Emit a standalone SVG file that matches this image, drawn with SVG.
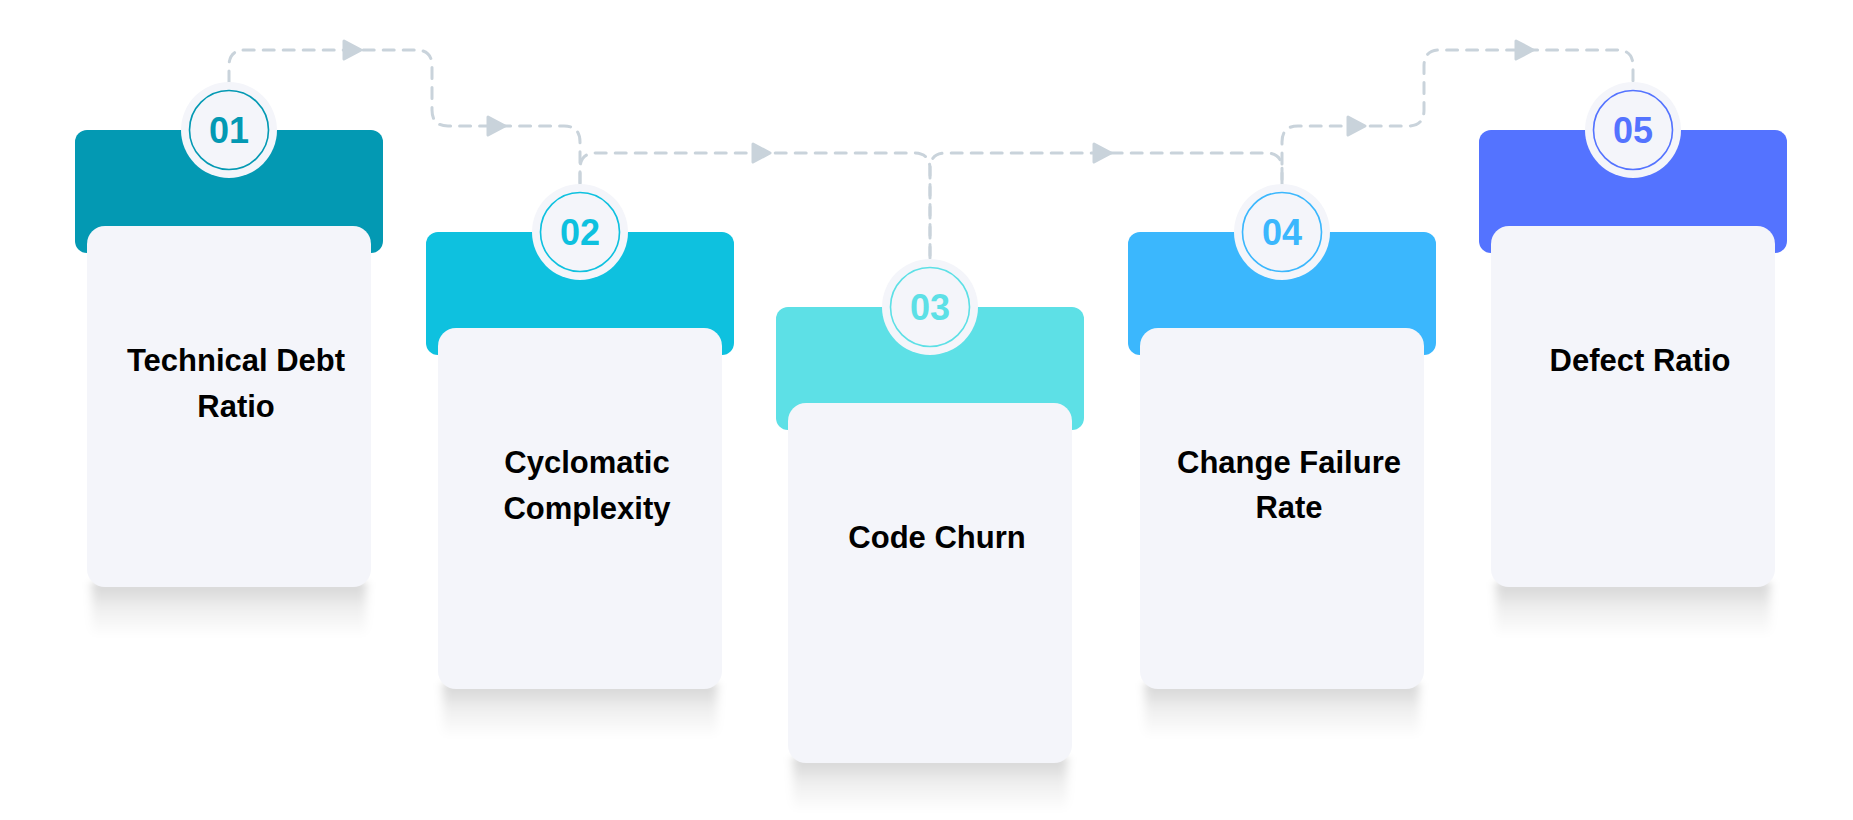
<svg xmlns="http://www.w3.org/2000/svg" width="1853" height="820" viewBox="0 0 1853 820">
<defs>
<style>
.card{fill:#F4F5FA}
.disc{fill:#F4F5FA}
.ring{fill:none;stroke-width:1.6}
.num{font-family:"Liberation Sans",Arial,sans-serif;font-weight:700;font-size:36px;text-anchor:middle}
.lbl{font-family:"Liberation Sans",Arial,sans-serif;font-weight:700;font-size:31px;text-anchor:middle;fill:#000}
.conn{fill:none;stroke:#C9D3DB;stroke-width:3;stroke-dasharray:11 9;stroke-linecap:round}
.arr{fill:#C9D3DB;stroke:#C9D3DB;stroke-width:3;stroke-linejoin:round}
.shadow{fill:url(#shade);filter:url(#soft)}
</style>
<linearGradient id="shade" x1="0" y1="0" x2="0" y2="1">
<stop offset="0" stop-color="#000" stop-opacity="0.17"/>
<stop offset="0.5" stop-color="#000" stop-opacity="0.06"/>
<stop offset="1" stop-color="#000" stop-opacity="0"/>
</linearGradient>
<filter id="soft" x="-10%" y="-30%" width="120%" height="160%"><feGaussianBlur stdDeviation="5 3"/></filter>
</defs>
<rect width="1853" height="820" fill="#FFFFFF"/>

<g id="connectors">
<path class="conn" d="M229,82 V66 Q229,50 245,50 H416 Q432,50 432,66 V110 Q432,126 448,126 H564 Q580,126 580,142 V184"/>
<polygon class="arr" points="344,41 361,50 344,59"/>
<polygon class="arr" points="488,117 505,126 488,135"/>
<path class="conn" d="M580,184 V169 Q580,153 596,153 H914 Q930,153 930,169 V258"/>
<polygon class="arr" points="753,144 770,153 753,162"/>
<path class="conn" d="M930,258 V169 Q930,153 946,153 H1266 Q1282,153 1282,169 V184"/>
<polygon class="arr" points="1094,144 1111,153 1094,162"/>
<path class="conn" d="M1282,184 V142 Q1282,126 1298,126 H1408 Q1424,126 1424,110 V66 Q1424,50 1440,50 H1617 Q1633,50 1633,66 V82"/>
<polygon class="arr" points="1348,117 1365,126 1348,135"/>
<polygon class="arr" points="1516,41 1533,50 1516,59"/>
</g>

<g id="node1">
<rect class="shadow" x="92" y="582" width="274" height="55"/>
<rect x="75" y="130" width="308" height="123" rx="12" fill="#0399B3"/>
<rect class="card" x="87" y="226" width="284" height="361" rx="18"/>
<circle class="disc" cx="229" cy="130" r="48"/>
<circle class="ring" cx="229" cy="130" r="39.5" stroke="#0399B3"/>
<text class="num" x="229" y="143" fill="#0399B3">01</text>
<text class="lbl" x="236" y="371">Technical Debt</text>
<text class="lbl" x="236" y="417">Ratio</text>
</g>

<g id="node2">
<rect class="shadow" x="443" y="683" width="274" height="55"/>
<rect x="426" y="232" width="308" height="123" rx="12" fill="#0EC1DF"/>
<rect class="card" x="438" y="328" width="284" height="361" rx="18"/>
<circle class="disc" cx="580" cy="232" r="48"/>
<circle class="ring" cx="580" cy="232" r="39.5" stroke="#0EC1DF"/>
<text class="num" x="580" y="245" fill="#0EC1DF">02</text>
<text class="lbl" x="587" y="473">Cyclomatic</text>
<text class="lbl" x="587" y="519">Complexity</text>
</g>

<g id="node3">
<rect class="shadow" x="793" y="757" width="274" height="55"/>
<rect x="776" y="307" width="308" height="123" rx="12" fill="#5DE0E6"/>
<rect class="card" x="788" y="403" width="284" height="360" rx="18"/>
<circle class="disc" cx="930" cy="307" r="48"/>
<circle class="ring" cx="930" cy="307" r="39.5" stroke="#5DE0E6"/>
<text class="num" x="930" y="320" fill="#5DE0E6">03</text>
<text class="lbl" x="937" y="548">Code Churn</text>
</g>

<g id="node4">
<rect class="shadow" x="1145" y="683" width="274" height="55"/>
<rect x="1128" y="232" width="308" height="123" rx="12" fill="#3BB7FD"/>
<rect class="card" x="1140" y="328" width="284" height="361" rx="18"/>
<circle class="disc" cx="1282" cy="232" r="48"/>
<circle class="ring" cx="1282" cy="232" r="39.5" stroke="#3BB7FD"/>
<text class="num" x="1282" y="245" fill="#3BB7FD">04</text>
<text class="lbl" x="1289" y="473">Change Failure</text>
<text class="lbl" x="1289" y="518">Rate</text>
</g>

<g id="node5">
<rect class="shadow" x="1496" y="582" width="274" height="55"/>
<rect x="1479" y="130" width="308" height="123" rx="12" fill="#5473FF"/>
<rect class="card" x="1491" y="226" width="284" height="361" rx="18"/>
<circle class="disc" cx="1633" cy="130" r="48"/>
<circle class="ring" cx="1633" cy="130" r="39.5" stroke="#5473FF"/>
<text class="num" x="1633" y="143" fill="#5473FF">05</text>
<text class="lbl" x="1640" y="371">Defect Ratio</text>
</g>
</svg>
